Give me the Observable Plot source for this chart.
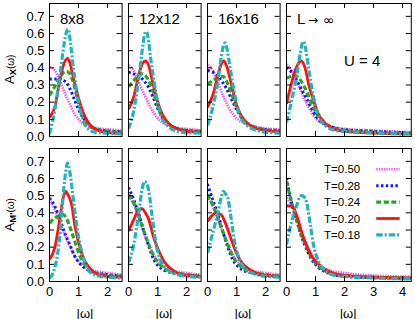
<!DOCTYPE html>
<html><head><meta charset="utf-8">
<script src="https://cdn.jsdelivr.net/npm/d3@7"></script>
<script src="https://cdn.jsdelivr.net/npm/@observablehq/plot@0.6"></script>
<style>
body{margin:0;background:#fff;}
#chart{position:relative;width:415px;height:319px;overflow:hidden;background:#fff;}
#chart > div{position:absolute;}
</style></head><body><div id="chart"></div>
<script>
// ---------- data ----------
const temps = ["T=0.50","T=0.28","T=0.24","T=0.20","T=0.18"];
const sizes = ["8x8","12x12","16x16","L"];
const yTicks = [0,0.1,0.2,0.3,0.4,0.5,0.6,0.7];
const xTicksFinite = [0,1,2];
const xTicksInf = [0,1,2,3,4];

// A_X(w), 8x8
const AX_8_T050 = [[0,.405],[.18,.385],[.36,.325],[.53,.25],[.7,.19],[.87,.13],[1.1,.083],[1.45,.054],[1.8,.045],[2.1,.04],[2.5,.035]];
const AX_8_T028 = [[0,.335],[.3,.335],[.53,.322],[.7,.28],[.87,.21],[1.05,.14],[1.28,.083],[1.56,.045],[2,.032],[2.5,.028]];
const AX_8_T024 = [[0,.24],[.18,.29],[.36,.345],[.5,.375],[.59,.38],[.7,.365],[.82,.316],[.99,.2],[1.22,.1],[1.45,.054],[2,.03],[2.5,.025]];
const AX_8_T020 = [[0,.112],[.18,.17],[.36,.33],[.47,.41],[.62,.455],[.7,.43],[.82,.345],[.99,.23],[1.16,.14],[1.33,.083],[1.68,.035],[2,.022],[2.5,.018]];
const AX_8_T018 = [[0,.015],[.18,.15],[.36,.36],[.47,.5],[.57,.6],[.64,.626],[.72,.55],[.82,.40],[.99,.21],[1.16,.093],[1.33,.045],[1.56,.025],[2,.018],[2.5,.015]];
// A_X(w), 12x12
const AX_12_T050 = [[0,.413],[.18,.385],[.36,.316],[.53,.25],[.76,.17],[.99,.11],[1.28,.07],[1.68,.05],[2,.045],[2.5,.035]];
const AX_12_T028 = [[0,.375],[.18,.365],[.41,.345],[.64,.30],[.82,.24],[.99,.17],[1.22,.10],[1.5,.058],[2,.035],[2.5,.03]];
const AX_12_T024 = [[0,.29],[.18,.325],[.36,.36],[.47,.365],[.58,.355],[.7,.325],[.87,.25],[1.05,.16],[1.22,.1],[1.45,.064],[2,.035],[2.5,.03]];
const AX_12_T020 = [[0,.16],[.18,.23],[.36,.365],[.5,.43],[.59,.44],[.7,.41],[.82,.325],[.99,.21],[1.16,.13],[1.39,.074],[1.68,.045],[2,.03],[2.5,.025]];
const AX_12_T018 = [[0,.045],[.18,.15],[.36,.345],[.47,.5],[.55,.59],[.61,.612],[.68,.57],[.76,.46],[.93,.27],[1.1,.13],[1.33,.064],[1.68,.03],[2,.022],[2.5,.02]];
// A_X(w), 16x16
const AX_16_T050 = [[0,.417],[.18,.385],[.36,.316],[.53,.24],[.76,.16],[.99,.108],[1.3,.075],[1.7,.055],[2,.048],[2.5,.04]];
const AX_16_T028 = [[0,.384],[.18,.375],[.41,.34],[.64,.283],[.82,.22],[.99,.16],[1.22,.10],[1.5,.06],[2,.04],[2.5,.035]];
const AX_16_T024 = [[0,.306],[.18,.325],[.36,.345],[.53,.35],[.7,.306],[.87,.23],[1.05,.15],[1.22,.10],[1.5,.065],[2,.04],[2.5,.03]];
const AX_16_T020 = [[0,.17],[.18,.24],[.36,.355],[.47,.42],[.56,.44],[.66,.41],[.82,.306],[.99,.19],[1.16,.122],[1.39,.074],[1.7,.045],[2,.035],[2.5,.025]];
const AX_16_T018 = [[0,.064],[.18,.17],[.36,.325],[.47,.46],[.55,.53],[.6,.545],[.67,.51],[.76,.42],[.93,.25],[1.1,.13],[1.33,.07],[1.7,.035],[2,.025],[2.5,.02]];
// A_X(w), L -> infinity
const AX_inf_T050 = [[0,.42],[.18,.385],[.36,.316],[.53,.25],[.76,.17],[.99,.11],[1.4,.065],[2,.045],[3,.035],[4.3,.025]];
const AX_inf_T028 = [[0,.403],[.18,.374],[.36,.325],[.53,.27],[.7,.22],[.87,.16],[1.1,.10],[1.5,.06],[2,.04],[3,.03],[4.3,.02]];
const AX_inf_T024 = [[0,.34],[.15,.35],[.3,.355],[.53,.316],[.7,.26],[.87,.19],[1.05,.13],[1.28,.083],[1.6,.05],[2,.035],[3,.025],[4.3,.02]];
const AX_inf_T020 = [[0,.19],[.18,.316],[.36,.41],[.5,.44],[.64,.40],[.76,.306],[.93,.21],[1.1,.13],[1.33,.078],[1.7,.04],[2,.03],[3,.02],[4.3,.015]];
const AX_inf_T018 = [[0,.083],[.18,.21],[.36,.365],[.47,.48],[.54,.54],[.59,.554],[.66,.51],[.76,.40],[.93,.23],[1.1,.122],[1.33,.064],[1.7,.035],[2,.03],[3,.02],[4.3,.015]];
// A_M'(w), 8x8
const AM_8_T050 = [[0,.477],[.18,.42],[.36,.34],[.53,.27],[.7,.205],[.87,.147],[1.1,.10],[1.5,.065],[2,.05],[2.5,.04]];
const AM_8_T028 = [[0,.486],[.18,.44],[.36,.36],[.53,.28],[.7,.215],[.87,.147],[1.1,.095],[1.5,.055],[2,.04],[2.5,.03]];
const AM_8_T024 = [[0,.34],[.18,.37],[.36,.385],[.47,.39],[.58,.37],[.7,.32],[.87,.235],[1.05,.147],[1.22,.1],[1.5,.055],[2,.035],[2.5,.03]];
const AM_8_T020 = [[0,.128],[.18,.196],[.36,.37],[.47,.485],[.56,.525],[.65,.50],[.76,.45],[.87,.33],[.99,.235],[1.16,.14],[1.33,.09],[1.68,.04],[2,.03],[2.5,.025]];
const AM_8_T018 = [[0,.02],[.18,.08],[.36,.27],[.47,.5],[.53,.6],[.62,.69],[.7,.64],[.76,.565],[.87,.41],[.99,.27],[1.16,.14],[1.33,.07],[1.56,.037],[2,.025],[2.5,.02]];
// A_M'(w), 12x12
const AM_12_T050 = [[0,.496],[.18,.448],[.36,.37],[.53,.283],[.7,.215],[.87,.157],[1.1,.103],[1.5,.065],[2,.05],[2.5,.04]];
const AM_12_T028 = [[0,.548],[.18,.477],[.36,.39],[.53,.293],[.7,.205],[.87,.128],[1.1,.08],[1.5,.05],[2,.035],[2.5,.03]];
const AM_12_T024 = [[0,.506],[.18,.457],[.36,.38],[.53,.293],[.7,.215],[.87,.147],[1.1,.095],[1.5,.055],[2,.04],[2.5,.03]];
const AM_12_T020 = [[0,.293],[.18,.36],[.36,.42],[.47,.424],[.58,.40],[.7,.36],[.87,.254],[1.05,.176],[1.22,.118],[1.45,.075],[2,.035],[2.5,.03]];
const AM_12_T018 = [[0,.11],[.18,.215],[.36,.41],[.47,.54],[.55,.583],[.62,.575],[.7,.525],[.82,.37],[.93,.235],[1.1,.128],[1.33,.07],[1.7,.04],[2,.03],[2.5,.025]];
// A_M'(w), 16x16
const AM_16_T050 = [[0,.496],[.18,.438],[.36,.36],[.53,.283],[.7,.215],[.87,.157],[1.1,.103],[1.5,.065],[2,.05],[2.5,.04]];
const AM_16_T028 = [[0,.568],[.18,.477],[.36,.39],[.53,.29],[.7,.20],[.87,.128],[1.1,.08],[1.5,.05],[2,.035],[2.5,.03]];
const AM_16_T024 = [[0,.506],[.18,.448],[.36,.37],[.53,.29],[.7,.215],[.87,.147],[1.1,.095],[1.5,.055],[2,.04],[2.5,.03]];
const AM_16_T020 = [[0,.35],[.13,.38],[.3,.40],[.47,.39],[.64,.33],[.82,.244],[.99,.167],[1.22,.103],[1.45,.07],[2,.035],[2.5,.03]];
const AM_16_T018 = [[0,.167],[.18,.283],[.36,.40],[.47,.49],[.55,.525],[.62,.51],[.7,.486],[.82,.36],[.93,.235],[1.1,.128],[1.33,.07],[1.7,.04],[2,.03],[2.5,.025]];
// A_M'(w), L -> infinity
const AM_inf_T050 = [[0,.486],[.13,.457],[.36,.37],[.53,.283],[.7,.215],[.87,.157],[1.1,.103],[1.5,.065],[2,.05],[3,.035],[4.3,.028]];
const AM_inf_T028 = [[0,.603],[.18,.457],[.36,.35],[.53,.254],[.7,.186],[.87,.128],[1.1,.083],[1.5,.045],[2,.03],[3,.022],[4.3,.018]];
const AM_inf_T024 = [[0,.583],[.18,.457],[.36,.35],[.53,.264],[.7,.196],[.87,.138],[1.1,.09],[1.5,.05],[2,.035],[3,.025],[4.3,.02]];
const AM_inf_T020 = [[0,.44],[.13,.44],[.24,.43],[.36,.38],[.53,.283],[.7,.205],[.87,.147],[1.1,.10],[1.33,.07],[2,.035],[3,.025],[4.3,.02]];
const AM_inf_T018 = [[0,.215],[.18,.35],[.36,.447],[.45,.49],[.53,.50],[.62,.49],[.7,.457],[.82,.33],[.93,.215],[1.1,.118],[1.33,.064],[1.7,.035],[2,.03],[3,.02],[4.3,.015]];

const panelsTop = [
  [AX_8_T050,AX_8_T028,AX_8_T024,AX_8_T020,AX_8_T018],
  [AX_12_T050,AX_12_T028,AX_12_T024,AX_12_T020,AX_12_T018],
  [AX_16_T050,AX_16_T028,AX_16_T024,AX_16_T020,AX_16_T018],
  [AX_inf_T050,AX_inf_T028,AX_inf_T024,AX_inf_T020,AX_inf_T018]
];
const panelsBottom = [
  [AM_8_T050,AM_8_T028,AM_8_T024,AM_8_T020,AM_8_T018],
  [AM_12_T050,AM_12_T028,AM_12_T024,AM_12_T020,AM_12_T018],
  [AM_16_T050,AM_16_T028,AM_16_T024,AM_16_T020,AM_16_T018],
  [AM_inf_T050,AM_inf_T028,AM_inf_T024,AM_inf_T020,AM_inf_T018]
];

// ---------- styles & layout ----------
const FONT = '"Liberation Sans", Arial, Helvetica, sans-serif';
const colors = ["#f060f0","#1515ff","#22aa22","#ff1111","#22b4ba"];
const widths = [2.6, 3, 3.2, 2.8, 3.2];
const dashes = ["1.5 1","2.4 2.4","5 2.6","none","6.5 2 2 2"];
const colLeft = [48.7, 127.7, 206.7, 285.7];
const colW = [72.6, 72.6, 72.6, 124.8];
const xMax = [2.5, 2.5, 2.5, 4.3];
const rowTop = [2.8, 148.3];
const panelH = 133;
const yMax = 0.775;
const M = {l: 40, r: 6, t: 6, b: 42};

const chart = document.getElementById("chart");

function makePanel(series, c, r) {
  const W = colW[c], H = panelH;
  const xt = c === 3 ? xTicksInf : xTicksFinite;
  const marks = series.map((pts, i) => Plot.line(pts, {
    x: d => d[0], y: d => d[1], stroke: colors[i], strokeWidth: widths[i],
    strokeDasharray: dashes[i], curve: "monotone-x", clip: true
  }));
  marks.push(
    Plot.tickY(yTicks, {y: d => d, insetRight: W - 5, stroke: "#000"}),
    Plot.tickY(yTicks, {y: d => d, insetLeft: W - 5, stroke: "#000"}),
    Plot.tickX(xt.slice(1), {x: d => d, insetBottom: H - 5, stroke: "#000"}),
    Plot.tickX(xt.slice(1), {x: d => d, insetTop: H - 5, stroke: "#000"}),
    Plot.frame({stroke: "#000", strokeWidth: 1})
  );
  if (r === 0) {
    marks.push(Plot.text([sizes[c]], {text: d => d, frameAnchor: "top-left", dx: 10.5, dy: 9.5,
      lineAnchor: "top", textAnchor: "start", fontSize: 15, fill: "#000"}));
    if (c === 3) {
      marks.push(Plot.text(["→"], {text: d => d, frameAnchor: "top-left", dx: 21.5, dy: 16.8,
        lineAnchor: "middle", textAnchor: "start", fontSize: 12, fontFamily: "DejaVu Sans", fill: "#000"}));
      marks.push(Plot.text(["∞"], {text: d => d, frameAnchor: "top-left", dx: 36.5, dy: 16.8,
        lineAnchor: "middle", textAnchor: "start", fontSize: 14, fontFamily: "DejaVu Sans", fill: "#000"}));
      marks.push(Plot.text(["U = 4"], {text: d => d, frameAnchor: "top-left", dx: 57.5, dy: 51.5,
        lineAnchor: "top", textAnchor: "start", fontSize: 15, fill: "#000"}));
    }
  }
  const svg = Plot.plot({
    width: W + M.l + M.r, height: H + M.t + M.b,
    marginLeft: M.l, marginRight: M.r, marginTop: M.t, marginBottom: M.b,
    x: Object.assign({domain: [0, xMax[c]]}, r === 1 ? {ticks: xt, tickSize: 0, tickPadding: 5, label: null, tickFormat: d => String(d)} : {axis: null}),
    y: Object.assign({domain: [0, yMax]}, c === 0 ? {ticks: yTicks, tickSize: 0, tickPadding: 5, tickFormat: d3.format(".1f"), label: null} : {axis: null}),
    style: {background: "transparent", overflow: "visible", fontFamily: FONT, fontSize: "13px", color: "#000"},
    marks
  });
  // make sure the dash patterns reach the drawn paths (line marks render first, in series order)
  d3.select(svg).selectAll('g[aria-label="line"]').each(function(_, i) {
    if (i < 5) d3.select(this).selectAll("path")
      .attr("stroke-dasharray", dashes[i]).attr("stroke-linecap", "butt");
  });
  const div = document.createElement("div");
  div.style.left = (colLeft[c] - M.l) + "px";
  div.style.top = (rowTop[r] - M.t) + "px";
  div.style.width = (W + M.l + M.r) + "px";
  div.style.height = (H + M.t + M.b) + "px";
  div.appendChild(svg);
  chart.appendChild(div);
}

for (let c = 0; c < 4; c++) {
  makePanel(panelsTop[c], c, 0);
  makePanel(panelsBottom[c], c, 1);
}

// ---------- overlay: axis titles & legend ----------
const ov = d3.create("svg").attr("width", 415).attr("height", 319)
  .style("position", "absolute").style("left", "0px").style("top", "0px")
  .style("font-family", FONT).style("overflow", "visible");

function yTitle(cy, sub) {
  const t = ov.append("text").attr("transform", `translate(13.5,${cy}) rotate(-90)`)
    .attr("text-anchor", "middle").attr("font-size", 13).attr("fill", "#000");
  t.append("tspan").text("A");
  t.append("tspan").attr("font-size", 9.5).attr("font-weight", "bold").attr("dy", 2.5).text(sub);
  t.append("tspan").attr("font-size", 10).attr("dy", -2.5).text("(ω)");
}
yTitle(rowTop[0] + panelH / 2, "X");
yTitle(rowTop[1] + panelH / 2, "M'");

for (let c = 0; c < 4; c++) {
  ov.append("text").attr("x", colLeft[c] + colW[c] / 2).attr("y", 313)
    .attr("text-anchor", "middle").attr("dominant-baseline", "central")
    .attr("font-size", 13).attr("fill", "#000").text("|ω|");
}

const legX = colLeft[3] + 74.5, legL1 = colLeft[3] + 90.5, legL2 = colLeft[3] + 114;
temps.forEach((t, i) => {
  const y = rowTop[1] + 21 + i * 16.4;
  ov.append("text").attr("x", legX).attr("y", y).attr("text-anchor", "end")
    .attr("dominant-baseline", "central").attr("font-size", 11.5).attr("fill", "#000").text(t);
  ov.append("line").attr("x1", legL1).attr("x2", legL2).attr("y1", y).attr("y2", y)
    .attr("stroke", colors[i]).attr("stroke-width", widths[i])
    .attr("stroke-dasharray", dashes[i]);
});
chart.appendChild(ov.node());
</script></body></html>
